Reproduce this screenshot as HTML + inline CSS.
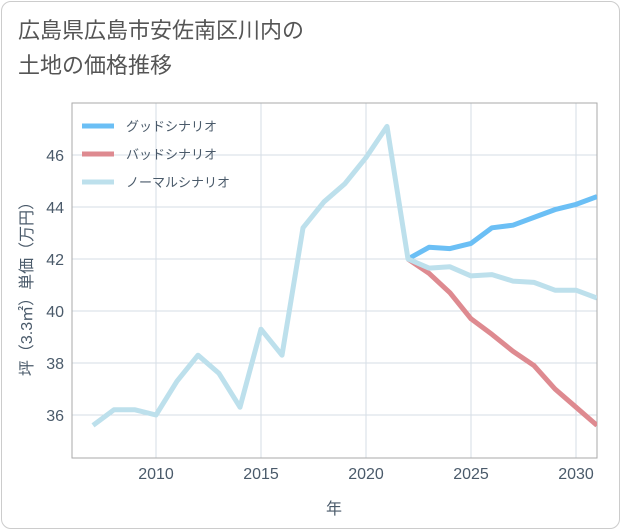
<!DOCTYPE html>
<html><head><meta charset="utf-8"><style>
body{margin:0;background:#fff;font-family:"Liberation Sans","Noto Sans CJK JP",sans-serif;}
.card{position:absolute;left:1px;top:1px;width:617px;height:526px;border:1px solid #ccc;border-radius:10px;background:#fff;}
.title{position:absolute;left:18px;top:13px;font-size:22px;line-height:35px;color:#555;}
</style></head><body>
<div class="card"></div>
<div class="title">広島県広島市安佐南区川内の<br>土地の価格推移</div>
<svg id="c" width="621" height="530" style="position:absolute;left:0;top:0"></svg>
<script>
const years=[2007,2008,2009,2010,2011,2012,2013,2014,2015,2016,2017,2018,2019,2020,2021,2022,2023,2024,2025,2026,2027,2028,2029,2030,2031];
const normalVals=[35.6,36.2,36.2,36.0,37.3,38.3,37.6,36.3,39.3,38.3,43.2,44.2,44.9,45.9,47.1,42.0,41.65,41.7,41.35,41.4,41.15,41.1,40.8,40.8,40.5];
const goodYears=[2022,2023,2024,2025,2026,2027,2028,2029,2030,2031];
const goodVals=[42.0,42.45,42.4,42.6,43.2,43.3,43.6,43.9,44.1,44.4];
const badVals=[42.0,41.45,40.7,39.7,39.1,38.45,37.9,37.0,36.3,35.6];
const xTicks=[2010,2015,2020,2025,2030];
const yTicks=[36,38,40,42,44,46];
const L=72,R=597,T=103,B=458;
const x=v=>156+(v-2010)*21;
const y=v=>155+(46-v)*26;
const s=document.getElementById('c');const NS='http://www.w3.org/2000/svg';
function el(t,a,p){const e=document.createElementNS(NS,t);for(const k in a)e.setAttribute(k,a[k]);(p||s).appendChild(e);return e;}
xTicks.forEach(t=>{const g=el('line',{x1:x(t),x2:x(t),y1:T,y2:B,stroke:'#d5dde5','stroke-width':1});

const tx=el('text',{x:x(t),y:479,'text-anchor':'middle','font-size':16,fill:'#4a5a6a'});tx.textContent=t;
});
yTicks.forEach(t=>{const g=el('line',{x1:L,x2:R,y1:y(t),y2:y(t),stroke:'#d5dde5','stroke-width':1});

const tx=el('text',{x:64,y:y(t)+6,'text-anchor':'end','font-size':16,fill:'#4a5a6a'});tx.textContent=t;
});
const ax=el('rect',{x:L,y:T,width:R-L,height:B-T,fill:'none',stroke:'#aaa','stroke-width':1});

const cp=el('clipPath',{id:'cp'});el('rect',{x:L,y:T,width:R-L,height:B-T},cp);
function line(xs,vs,c,n){const p=el('polyline',{points:xs.map((v,i)=>x(v)+','+y(vs[i])).join(' '),fill:'none',stroke:c,'stroke-width':5,'stroke-linejoin':'round','clip-path':'url(#cp)'});
}
line(goodYears,goodVals,'#6bbff5','good-scenario-line');
line(goodYears,badVals,'#de8a90','bad-scenario-line');
line(years,normalVals,'#bde0ec','normal-scenario-line');
const leg=[['グッドシナリオ','#6bbff5'],['バッドシナリオ','#de8a90'],['ノーマルシナリオ','#bde0ec']];
leg.forEach((d,i)=>{const yy=126+i*28;
const l=el('line',{x1:82,x2:114,y1:yy,y2:yy,stroke:d[1],'stroke-width':5});

const t=el('text',{x:126,y:yy+5,'font-size':13,fill:'#4a5a6a'});t.textContent=d[0];
});
const xt=el('text',{x:334,y:514,'text-anchor':'middle','font-size':16,fill:'#4a5a6a'});xt.textContent='年';

const yt=el('text',{x:0,y:0,'text-anchor':'middle','font-size':16,fill:'#4a5a6a',transform:'translate(32,285) rotate(-90)'});yt.textContent='坪（3.3㎡）単価（万円）';

</script>
</body></html>
